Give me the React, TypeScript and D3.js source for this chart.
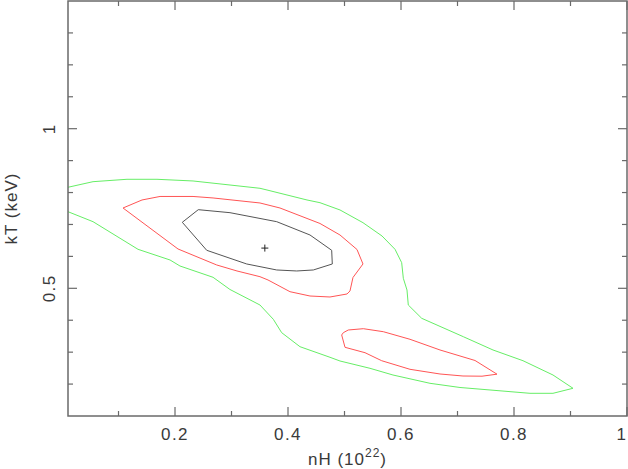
import * as d3 from "d3";

// x / y axis ranges (nH in 1e22, kT in keV)
const xDomain = [0.0106, 1];
const yDomain = [0.1, 1.4];
const xMajor = [0.2, 0.4, 0.6, 0.8, 1];
const xMinor = [0.1, 0.3, 0.5, 0.7, 0.9];
const yMajor = [0.5, 1];
const yMinor = [0.2, 0.3, 0.4, 0.6, 0.7, 0.8, 0.9, 1.1, 1.2, 1.3];

// best fit
const bestFit = [0.359, 0.626];

// 68% contour (black)
const contour68: [number, number][] = [
  [0.2129, 0.7068], [0.2412, 0.7463], [0.2973, 0.7369], [0.38, 0.7087],
  [0.4389, 0.667], [0.4773, 0.6191], [0.4784, 0.5762], [0.4448, 0.5574],
  [0.4154, 0.5543], [0.38, 0.5574], [0.3269, 0.5762], [0.2561, 0.6191],
];

// 90% contour (red), main island
const contour90: [number, number][] = [
  [0.108, 0.7516], [0.1416, 0.7767], [0.1735, 0.7877], [0.2319, 0.7877],
  [0.2673, 0.783], [0.3504, 0.7673], [0.3858, 0.7516], [0.4566, 0.7031],
  [0.492, 0.667], [0.5221, 0.6216], [0.5327, 0.5762], [0.515, 0.5339],
  [0.5097, 0.4916], [0.5044, 0.4822], [0.4743, 0.4728], [0.4389, 0.4759],
  [0.4035, 0.4894], [0.3646, 0.5261], [0.3504, 0.5364], [0.3097, 0.5543],
  [0.2738, 0.5731], [0.2053, 0.6232],
];

// 90% contour (red), second island
const contour90b: [number, number][] = [
  [0.4979, 0.361], [0.5067, 0.3694], [0.5333, 0.3735], [0.5687, 0.3641],
  [0.6159, 0.3403], [0.669, 0.3068], [0.731, 0.2739], [0.7699, 0.231],
  [0.7434, 0.2247], [0.7097, 0.2253], [0.669, 0.2316], [0.6159, 0.2463],
  [0.5658, 0.2732], [0.5363, 0.2983], [0.5009, 0.3152], [0.495, 0.3538],
];

// 99% contour (green), open at the left edge
const contour99: [number, number][] = [
  [0.0106, 0.8165], [0.0549, 0.834], [0.115, 0.8415], [0.1681, 0.8415],
  [0.2319, 0.8362], [0.3504, 0.8133], [0.3628, 0.808], [0.4336, 0.7767],
  [0.4566, 0.7682], [0.492, 0.7454], [0.5327, 0.7056], [0.5664, 0.6639],
  [0.5894, 0.6222], [0.6012, 0.5803], [0.6041, 0.5314], [0.6106, 0.4947],
  [0.6129, 0.4477], [0.6366, 0.4061], [0.7103, 0.3484], [0.7628, 0.3068],
  [0.8159, 0.2732], [0.869, 0.2284], [0.9044, 0.1868], [0.869, 0.1711],
  [0.8283, 0.1711], [0.7575, 0.1815], [0.7044, 0.1893], [0.6513, 0.2024],
  [0.5858, 0.2284], [0.5451, 0.2494], [0.492, 0.2723], [0.4743, 0.2839],
  [0.4212, 0.3171], [0.3888, 0.361], [0.374, 0.4029], [0.3504, 0.4477],
  [0.2973, 0.4963], [0.2673, 0.5345], [0.2088, 0.5699], [0.1912, 0.5887],
  [0.1345, 0.6222], [0.0549, 0.7087], [0.0106, 0.74],
];

const W = 628;
const H = 469;
const left = 68, right = 627, top = 1, bottom = 416;
const font = "'Liberation Sans', Arial, sans-serif";
const textColor = "#3a3a3a";
const axisColor = "#6a6a6a";

export default function App() {
  const x = d3.scaleLinear().domain(xDomain).range([left, right]);
  const y = d3.scaleLinear().domain(yDomain).range([bottom, top]);

  const closed = d3
    .line<[number, number]>()
    .x((d) => x(d[0]))
    .y((d) => y(d[1]))
    .curve(d3.curveLinearClosed);
  const open = d3
    .line<[number, number]>()
    .x((d) => x(d[0]))
    .y((d) => y(d[1]));

  const tickX = (v: number, len: number) => (
    <g key={"x" + v}>
      <line x1={x(v)} x2={x(v)} y1={bottom} y2={bottom - len} stroke={axisColor} strokeWidth={1.2} />
      <line x1={x(v)} x2={x(v)} y1={top} y2={top + len} stroke={axisColor} strokeWidth={1.2} />
    </g>
  );
  const tickY = (v: number, len: number) => (
    <g key={"y" + v}>
      <line x1={left} x2={left + len} y1={y(v)} y2={y(v)} stroke={axisColor} strokeWidth={1.2} />
      <line x1={right} x2={right - len} y1={y(v)} y2={y(v)} stroke={axisColor} strokeWidth={1.2} />
    </g>
  );

  return (
    <svg
      width={W}
      height={H}
      style={{ position: "absolute", left: 0, top: 0, background: "#fff" }}
      fontFamily={font}
    >
      <defs>
        <clipPath id="plotArea">
          <rect x={left} y={top} width={right - left} height={bottom - top} />
        </clipPath>
      </defs>

      <g clipPath="url(#plotArea)" fill="none" strokeWidth={1}>
        <path d={open(contour99) ?? ""} stroke="#66ee66" />
        <path d={closed(contour90) ?? ""} stroke="#ff5555" />
        <path d={closed(contour90b) ?? ""} stroke="#ff5555" />
        <path d={closed(contour68) ?? ""} stroke="#555" />
        <g stroke="#222">
          <line x1={x(bestFit[0]) - 3.5} x2={x(bestFit[0]) + 3.5} y1={y(bestFit[1])} y2={y(bestFit[1])} />
          <line x1={x(bestFit[0])} x2={x(bestFit[0])} y1={y(bestFit[1]) - 3.5} y2={y(bestFit[1]) + 3.5} />
        </g>
      </g>

      {/* frame */}
      <rect x={left} y={top} width={right - left} height={bottom - top} fill="none" stroke={axisColor} strokeWidth={1.5} />

      {xMajor.map((v) => tickX(v, 9))}
      {xMinor.map((v) => tickX(v, 5))}
      {yMajor.map((v) => tickY(v, 9))}
      {yMinor.map((v) => tickY(v, 5))}

      {xMajor.map((v) => (
        <text
          key={"xl" + v}
          x={Math.min(x(v), W - 6)}
          y={440}
          textAnchor="middle"
          fontSize={17}
          letterSpacing={1.5}
          fill={textColor}
        >
          {d3.format("~g")(v)}
        </text>
      ))}
      {yMajor.map((v) => (
        <text
          key={"yl" + v}
          transform={`translate(55,${y(v)}) rotate(-90)`}
          textAnchor="middle"
          fontSize={17}
          letterSpacing={1.5}
          fill={textColor}
        >
          {d3.format("~g")(v)}
        </text>
      ))}

      <text x={(left + right) / 2} y={465} textAnchor="middle" fontSize={17} letterSpacing={1} fill={textColor}>
        nH (10
        <tspan dy={-8} fontSize={12}>22</tspan>
        <tspan dy={8}>)</tspan>
      </text>
      <text
        transform={`translate(17,${(top + bottom) / 2}) rotate(-90)`}
        textAnchor="middle"
        fontSize={17}
        letterSpacing={1}
        fill={textColor}
      >
        kT (keV)
      </text>
    </svg>
  );
}
